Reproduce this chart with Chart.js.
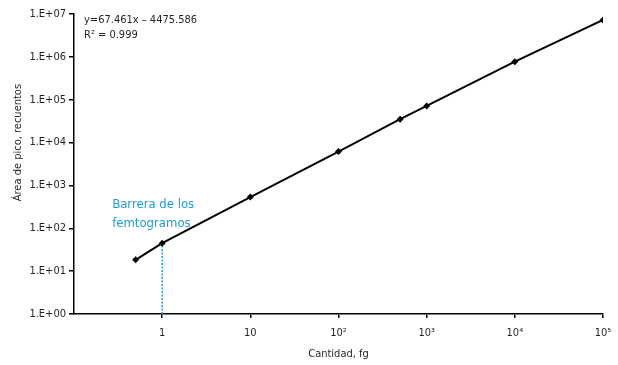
<!DOCTYPE html>
<html>
<head>
<meta charset="utf-8">
<script src="https://cdn.jsdelivr.net/npm/chart.js@4/dist/chart.umd.min.js"></script>
<style>
  html, body { margin: 0; padding: 0; background: #fff; }
  #wrap { width: 618px; height: 365px; }
</style>
</head>
<body>
<div id="wrap"><canvas id="c" width="618" height="365"></canvas></div>
<script>
// Data
const cantidad = [0.5, 1, 10, 100, 500, 1000, 10000, 100000];
const area = [18.4, 45, 534, 6170, 35100, 71700, 773000, 7240000];
const xTicks = [1, 10, 100, 1000, 10000, 100000];
const xTickLabels = ['1', '10', '10²', '10³', '10⁴', '10⁵'];
const yTicks = [1, 10, 100, 1000, 10000, 100000, 1000000, 10000000];
const yTickLabels = ['1.E+00', '1.E+01', '1.E+02', '1.E+03', '1.E+04', '1.E+05', '1.E+06', '1.E+07'];
const barrierX = 1;
const equationLines = ['y=67.461x – 4475.586', 'R² = 0.999'];
const barrierLabel = ['Barrera de los', 'femtogramos'];
const yTitle = 'Área de pico, recuentos';
const xTitle = 'Cantidad, fg';

const FONT = "'Liberation Sans Narrow', 'DejaVu Sans Condensed', 'Roboto', sans-serif";
const TEXT = '#231f20';
const BLUE = '#1e9cd7';

const annot = {
  id: 'annot',
  afterDatasetsDraw(chart) {
    const ctx = chart.ctx, ca = chart.chartArea;
    const xs = chart.scales.x, ys = chart.scales.y;
    ctx.save();
    ctx.font = '11px ' + FONT;
    ctx.fillStyle = TEXT;
    ctx.textBaseline = 'middle';
    ctx.textAlign = 'left';
    ctx.fillText(equationLines[0], ca.left + 10, ca.top + 6);
    ctx.fillText(equationLines[1], ca.left + 10, ca.top + 21);
    // y axis title (sits above centre, as in the reference)
    ctx.save();
    ctx.translate(18, ys.getPixelForValue(10000));
    ctx.rotate(-Math.PI / 2);
    ctx.textAlign = 'center';
    ctx.fillText(yTitle, 0, 0);
    ctx.restore();
    ctx.font = '13px ' + FONT;
    ctx.fillStyle = BLUE;
    const bx = xs.getPixelForValue(barrierX) - 50;
    const by = ys.getPixelForValue(1000);
    ctx.fillText(barrierLabel[0], bx, by + 19);
    ctx.fillText(barrierLabel[1], bx, by + 38);
    ctx.restore();
  }
};

new Chart(document.getElementById('c'), {
  type: 'scatter',
  data: {
    datasets: [
      {
        data: cantidad.map((x, i) => ({ x: x, y: area[i] })),
        showLine: true,
        borderColor: '#000',
        backgroundColor: '#000',
        borderWidth: 2,
        pointStyle: 'rectRot',
        pointRadius: 3.5,
        pointBorderWidth: 0,
        order: 1
      },
      {
        data: [{ x: barrierX, y: yTicks[0] }, { x: barrierX, y: area[cantidad.indexOf(barrierX)] }],
        showLine: true,
        borderColor: BLUE,
        borderWidth: 1.5,
        borderDash: [2, 1.5],
        pointRadius: 0,
        order: 2
      }
    ]
  },
  options: {
    responsive: false,
    animation: false,
    devicePixelRatio: 1,
    layout: { padding: { left: 0, right: 15, top: 14, bottom: 4 } },
    plugins: { legend: { display: false }, tooltip: { enabled: false } },
    scales: {
      x: {
        type: 'logarithmic',
        min: 0.1,
        max: 100000,
        afterBuildTicks(s) { s.ticks = xTicks.map(v => ({ value: v })); },
        afterFit(s) { s.height = 47; s.paddingRight = 0; s.paddingLeft = 0; },
        ticks: {
          autoSkip: false,
          maxRotation: 0,
          color: TEXT,
          font: { family: FONT, size: 11 },
          padding: 9,
          callback(v) { const i = xTicks.indexOf(v); return i >= 0 ? xTickLabels[i] : ''; }
        },
        grid: { display: true, drawOnChartArea: false, drawTicks: true, tickLength: 4, color: '#000', lineWidth: 1.5 },
        border: { display: true, color: '#000', width: 1.5 },
        title: { display: true, text: xTitle, color: TEXT, font: { family: FONT, size: 11 }, padding: { top: 4, bottom: 0 } }
      },
      y: {
        type: 'logarithmic',
        min: 1,
        max: 10000000,
        afterBuildTicks(s) { s.ticks = yTicks.map(v => ({ value: v })); },
        afterFit(s) { s.width = 74; s.paddingTop = 0; s.paddingBottom = 0; },
        ticks: {
          autoSkip: false,
          color: TEXT,
          font: { family: FONT, size: 11 },
          padding: 3,
          callback(v) { const i = yTicks.indexOf(v); return i >= 0 ? yTickLabels[i] : ''; }
        },
        grid: { display: true, drawOnChartArea: false, drawTicks: true, tickLength: 5, color: '#000', lineWidth: 1.5 },
        border: { display: true, color: '#000', width: 1.5 },
        title: { display: false }
      }
    }
  },
  plugins: [annot]
});
</script>
</body>
</html>
